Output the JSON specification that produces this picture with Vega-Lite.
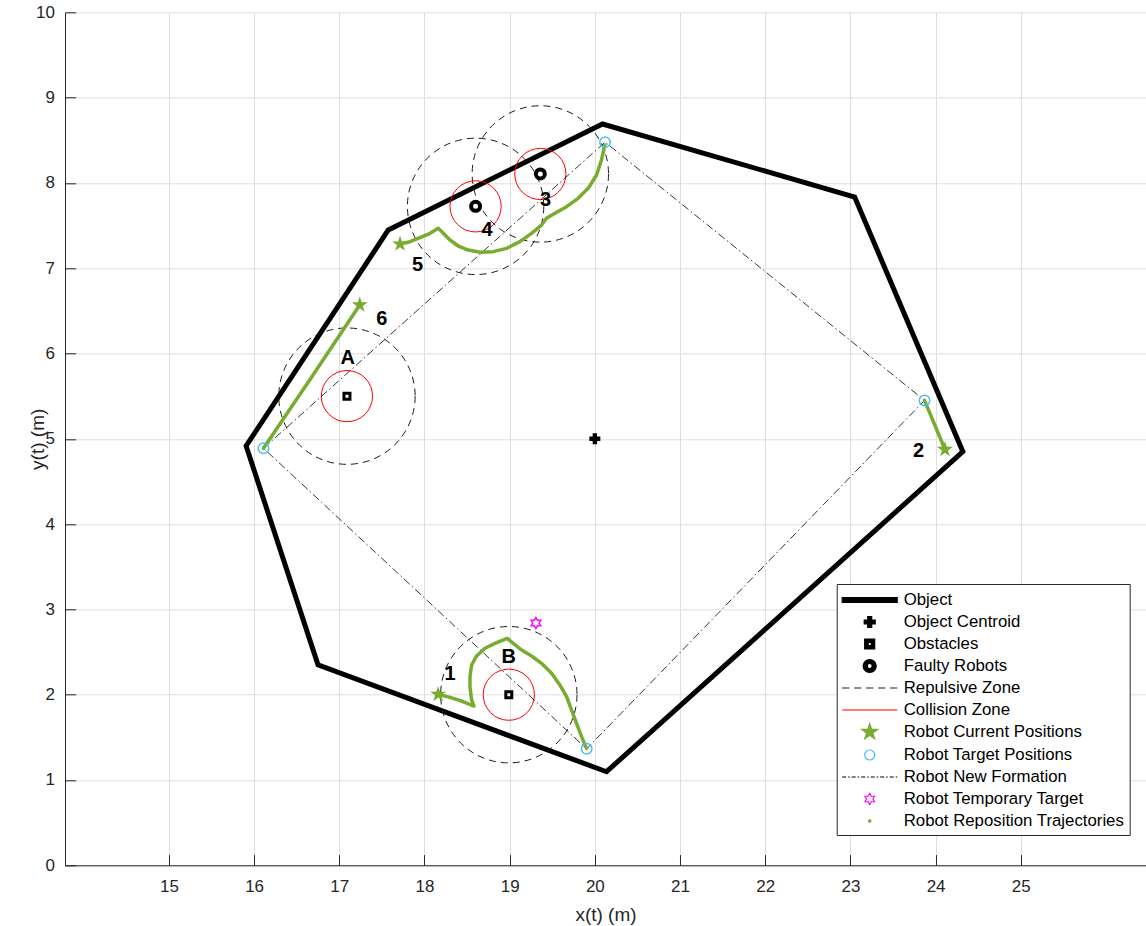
{
  "$schema": "https://vega.github.io/schema/vega-lite/v6.json",
  "width": 1081,
  "height": 853,
  "autosize": {"type": "none"},
  "padding": {"left": 65, "top": 12.3, "right": 0, "bottom": 61},
  "background": "white",
  "config": {
    "view": {"stroke": null},
    "axis": {
      "domainColor": "#262626",
      "domainWidth": 1,
      "tickColor": "#262626",
      "tickSize": -10.7,
      "tickWidth": 1,
      "gridColor": "#dedede",
      "gridWidth": 1,
      "labelColor": "#262626",
      "labelFont": "Liberation Sans",
      "labelFontSize": 17,
      "labelFlush": false,
      "labelOverlap": false,
      "titleFont": "Liberation Sans",
      "titleFontSize": 19,
      "titleFontWeight": "normal",
      "titleColor": "#262626"
    }
  },
  "datasets": {
    "object": [
      {"series": "Object", "i": 0, "x": 15.906, "y": 4.916},
      {"series": "Object", "i": 1, "x": 17.575, "y": 7.448},
      {"series": "Object", "i": 2, "x": 20.09, "y": 8.69},
      {"series": "Object", "i": 3, "x": 23.05, "y": 7.835},
      {"series": "Object", "i": 4, "x": 24.32, "y": 4.849},
      {"series": "Object", "i": 5, "x": 20.137, "y": 1.097},
      {"series": "Object", "i": 6, "x": 16.75, "y": 2.35},
      {"series": "Object", "i": 7, "x": 15.906, "y": 4.916},
      {"series": "Object", "i": 8, "x": 17.575, "y": 7.448}
    ],
    "centroid": [
      {"series": "Object Centroid", "x": 20.0, "y": 5.0}
    ],
    "obstacles": [
      {"series": "Obstacles", "name": "A", "x": 17.09, "y": 5.5},
      {"series": "Obstacles", "name": "B", "x": 18.99, "y": 2.0}
    ],
    "faulty": [
      {"series": "Faulty Robots", "robot": "3", "x": 19.36, "y": 8.105},
      {"series": "Faulty Robots", "robot": "4", "x": 18.6, "y": 7.725}
    ],
    "repulsive": [
      {"series": "Repulsive Zone", "x": 17.09, "y": 5.5},
      {"series": "Repulsive Zone", "x": 18.99, "y": 2.0},
      {"series": "Repulsive Zone", "x": 19.36, "y": 8.105},
      {"series": "Repulsive Zone", "x": 18.6, "y": 7.725}
    ],
    "collision": [
      {"series": "Collision Zone", "x": 17.09, "y": 5.5},
      {"series": "Collision Zone", "x": 18.99, "y": 2.0},
      {"series": "Collision Zone", "x": 19.36, "y": 8.105},
      {"series": "Collision Zone", "x": 18.6, "y": 7.725}
    ],
    "current": [
      {"series": "Robot Current Positions", "robot": "1", "x": 18.16, "y": 2.004},
      {"series": "Robot Current Positions", "robot": "2", "x": 24.11, "y": 4.875},
      {"series": "Robot Current Positions", "robot": "5", "x": 17.713, "y": 7.284},
      {"series": "Robot Current Positions", "robot": "6", "x": 17.24, "y": 6.569}
    ],
    "targets": [
      {"series": "Robot Target Positions", "x": 16.11, "y": 4.889},
      {"series": "Robot Target Positions", "x": 20.12, "y": 8.478},
      {"series": "Robot Target Positions", "x": 23.87, "y": 5.45},
      {"series": "Robot Target Positions", "x": 19.904, "y": 1.365}
    ],
    "formation": [
      {"series": "Robot New Formation", "i": 0, "x": 16.11, "y": 4.889},
      {"series": "Robot New Formation", "i": 1, "x": 20.12, "y": 8.478},
      {"series": "Robot New Formation", "i": 2, "x": 23.87, "y": 5.45},
      {"series": "Robot New Formation", "i": 3, "x": 19.904, "y": 1.365},
      {"series": "Robot New Formation", "i": 4, "x": 16.11, "y": 4.889}
    ],
    "temp": [
      {"series": "Robot Temporary Target", "x": 19.308, "y": 2.84}
    ],
    "traj": [
      {"series": "Robot Reposition Trajectories", "robot": "1", "i": 0, "x": 18.162, "y": 2.004},
      {"series": "Robot Reposition Trajectories", "robot": "1", "i": 1, "x": 18.299, "y": 1.969},
      {"series": "Robot Reposition Trajectories", "robot": "1", "i": 2, "x": 18.436, "y": 1.926},
      {"series": "Robot Reposition Trajectories", "robot": "1", "i": 3, "x": 18.581, "y": 1.867},
      {"series": "Robot Reposition Trajectories", "robot": "1", "i": 4, "x": 18.553, "y": 1.938},
      {"series": "Robot Reposition Trajectories", "robot": "1", "i": 5, "x": 18.534, "y": 2.094},
      {"series": "Robot Reposition Trajectories", "robot": "1", "i": 6, "x": 18.534, "y": 2.211},
      {"series": "Robot Reposition Trajectories", "robot": "1", "i": 7, "x": 18.553, "y": 2.348},
      {"series": "Robot Reposition Trajectories", "robot": "1", "i": 8, "x": 18.612, "y": 2.454},
      {"series": "Robot Reposition Trajectories", "robot": "1", "i": 9, "x": 18.71, "y": 2.544},
      {"series": "Robot Reposition Trajectories", "robot": "1", "i": 10, "x": 18.847, "y": 2.61},
      {"series": "Robot Reposition Trajectories", "robot": "1", "i": 11, "x": 18.972, "y": 2.661},
      {"series": "Robot Reposition Trajectories", "robot": "1", "i": 12, "x": 19.042, "y": 2.602},
      {"series": "Robot Reposition Trajectories", "robot": "1", "i": 13, "x": 19.14, "y": 2.524},
      {"series": "Robot Reposition Trajectories", "robot": "1", "i": 14, "x": 19.257, "y": 2.454},
      {"series": "Robot Reposition Trajectories", "robot": "1", "i": 15, "x": 19.374, "y": 2.368},
      {"series": "Robot Reposition Trajectories", "robot": "1", "i": 16, "x": 19.492, "y": 2.251},
      {"series": "Robot Reposition Trajectories", "robot": "1", "i": 17, "x": 19.589, "y": 2.114},
      {"series": "Robot Reposition Trajectories", "robot": "1", "i": 18, "x": 19.668, "y": 1.977},
      {"series": "Robot Reposition Trajectories", "robot": "1", "i": 19, "x": 19.726, "y": 1.821},
      {"series": "Robot Reposition Trajectories", "robot": "1", "i": 20, "x": 19.785, "y": 1.664},
      {"series": "Robot Reposition Trajectories", "robot": "1", "i": 21, "x": 19.844, "y": 1.508},
      {"series": "Robot Reposition Trajectories", "robot": "1", "i": 22, "x": 19.902, "y": 1.371},
      {"series": "Robot Reposition Trajectories", "robot": "2", "i": 0, "x": 23.87, "y": 5.45},
      {"series": "Robot Reposition Trajectories", "robot": "2", "i": 1, "x": 24.11, "y": 4.875},
      {"series": "Robot Reposition Trajectories", "robot": "6", "i": 0, "x": 16.11, "y": 4.889},
      {"series": "Robot Reposition Trajectories", "robot": "6", "i": 1, "x": 16.68, "y": 5.73},
      {"series": "Robot Reposition Trajectories", "robot": "6", "i": 2, "x": 17.24, "y": 6.569},
      {"series": "Robot Reposition Trajectories", "robot": "5", "i": 0, "x": 17.713, "y": 7.284},
      {"series": "Robot Reposition Trajectories", "robot": "5", "i": 1, "x": 17.83, "y": 7.311},
      {"series": "Robot Reposition Trajectories", "robot": "5", "i": 2, "x": 17.947, "y": 7.358},
      {"series": "Robot Reposition Trajectories", "robot": "5", "i": 3, "x": 18.065, "y": 7.409},
      {"series": "Robot Reposition Trajectories", "robot": "5", "i": 4, "x": 18.162, "y": 7.467},
      {"series": "Robot Reposition Trajectories", "robot": "5", "i": 5, "x": 18.221, "y": 7.409},
      {"series": "Robot Reposition Trajectories", "robot": "5", "i": 6, "x": 18.299, "y": 7.331},
      {"series": "Robot Reposition Trajectories", "robot": "5", "i": 7, "x": 18.397, "y": 7.26},
      {"series": "Robot Reposition Trajectories", "robot": "5", "i": 8, "x": 18.514, "y": 7.213},
      {"series": "Robot Reposition Trajectories", "robot": "5", "i": 9, "x": 18.651, "y": 7.186},
      {"series": "Robot Reposition Trajectories", "robot": "5", "i": 10, "x": 18.807, "y": 7.194},
      {"series": "Robot Reposition Trajectories", "robot": "5", "i": 11, "x": 18.964, "y": 7.233},
      {"series": "Robot Reposition Trajectories", "robot": "5", "i": 12, "x": 19.12, "y": 7.311},
      {"series": "Robot Reposition Trajectories", "robot": "5", "i": 13, "x": 19.257, "y": 7.409},
      {"series": "Robot Reposition Trajectories", "robot": "5", "i": 14, "x": 19.374, "y": 7.506},
      {"series": "Robot Reposition Trajectories", "robot": "5", "i": 15, "x": 19.433, "y": 7.585},
      {"series": "Robot Reposition Trajectories", "robot": "5", "i": 16, "x": 19.531, "y": 7.643},
      {"series": "Robot Reposition Trajectories", "robot": "5", "i": 17, "x": 19.668, "y": 7.721},
      {"series": "Robot Reposition Trajectories", "robot": "5", "i": 18, "x": 19.804, "y": 7.819},
      {"series": "Robot Reposition Trajectories", "robot": "5", "i": 19, "x": 19.922, "y": 7.936},
      {"series": "Robot Reposition Trajectories", "robot": "5", "i": 20, "x": 20.02, "y": 8.093},
      {"series": "Robot Reposition Trajectories", "robot": "5", "i": 21, "x": 20.078, "y": 8.269},
      {"series": "Robot Reposition Trajectories", "robot": "5", "i": 22, "x": 20.117, "y": 8.444}
    ],
    "labels": [
      {"label": "1", "x": 18.3, "y": 2.24},
      {"label": "2", "x": 23.8, "y": 4.855},
      {"label": "3", "x": 19.42, "y": 7.8},
      {"label": "4", "x": 18.735, "y": 7.445},
      {"label": "5", "x": 17.92, "y": 7.04},
      {"label": "6", "x": 17.5, "y": 6.405},
      {"label": "A", "x": 17.1, "y": 5.95},
      {"label": "B", "x": 18.99, "y": 2.445}
    ]
  },
  "encoding": {
    "x": {
      "field": "x",
      "type": "quantitative",
      "scale": {"domain": [13.78, 26.47], "nice": false, "zero": false},
      "axis": {
        "values": [15, 16, 17, 18, 19, 20, 21, 22, 23, 24, 25],
        "title": "x(t) (m)",
        "titleY": 49.7,
        "titleBaseline": "middle",
        "labelBaseline": "middle",
        "labelPadding": 32.1
      }
    },
    "y": {
      "field": "y",
      "type": "quantitative",
      "scale": {"domain": [0, 10], "nice": false, "zero": false},
      "axis": {
        "values": [0, 1, 2, 3, 4, 5, 6, 7, 8, 9, 10],
        "title": "y(t) (m)",
        "titleX": -27.5,
        "titleBaseline": "middle",
        "labelPadding": 21.2
      }
    },
    "color": {
      "field": "series",
      "type": "nominal",
      "scale": {
        "domain": ["Object", "Object Centroid", "Obstacles", "Faulty Robots", "Repulsive Zone", "Collision Zone", "Robot Current Positions", "Robot Target Positions", "Robot New Formation", "Robot Temporary Target", "Robot Reposition Trajectories"],
        "range": ["#000000", "#000000", "#000000", "#000000", "#1a1a1a", "#ff0000", "#77ac30", "#4dbeee", "#000000", "#ff00ff", "#77ac30"]
      },
      "legend": {
        "orient": "none",
        "legendX": 771.7,
        "legendY": 571.7,
        "title": null,
        "direction": "vertical",
        "symbolSize": 400,
        "symbolStrokeWidth": 1.2,
        "symbolOffset": 17,
        "labelOffset": 23,
        "labelFont": "Liberation Sans",
        "labelFontSize": 16.8,
        "labelColor": "#000000",
        "labelLimit": 400,
        "padding": 5,
        "rowPadding": 2.0,
        "strokeColor": "#262626",
        "fillColor": "#ffffff",
        "encode": {
          "symbols": {
            "update": {
              "shape": {"signal": "['M-2.75,-0.25H2.75V0.25H-2.75Z', 'M-0.55,-0.2H0.55V0.2H-0.55Z M-0.2,-0.55H0.2V0.55H-0.2Z', 'M-0.5,-0.5H0.5V0.5H-0.5Z M-0.15,-0.15V0.15H0.15V-0.15Z', 'M-0.65,0A0.65,0.65,0,1,1,0.65,0A0.65,0.65,0,1,1,-0.65,0Z M-0.25,0A0.25,0.25,0,1,0,0.25,0A0.25,0.25,0,1,0,-0.25,0Z', 'M-2.75,0H2.75', 'M-2.75,0H2.75', 'M0,-0.84L0.1886,-0.2596L0.7989,-0.2596L0.3052,0.0991L0.4938,0.6796L0,0.3209L-0.4938,0.6796L-0.3052,0.0991L-0.7989,-0.2596L-0.1886,-0.2596Z', 'M-0.5,0A0.5,0.5,0,1,1,0.5,0A0.5,0.5,0,1,1,-0.5,0Z', 'M-2.75,0H2.75', 'M0,-0.55L0.159,-0.275L0.476,-0.275L0.317,0L0.476,0.275L0.159,0.275L0,0.55L-0.159,0.275L-0.476,0.275L-0.317,0L-0.476,-0.275L-0.159,-0.275Z', 'M-0.12,0A0.12,0.12,0,1,1,0.12,0A0.12,0.12,0,1,1,-0.12,0Z'][datum.index]"},
              "fill": {"signal": "['#000000','#000000','#000000','#000000','#ffffff','#ffffff','#77ac30','#ffffff','#ffffff','#ffffff','#77ac30'][datum.index]"},
              "fillOpacity": {"signal": "[1,1,1,1,0,0,1,0,0,0,1][datum.index]"},
              "stroke": {"signal": "['transparent','transparent','transparent','transparent','#1a1a1a','#ff0000','transparent','#4dbeee','#000000','#ff00ff','transparent'][datum.index]"},
              "strokeDash": {"signal": "[[],[],[],[],[7,5],[],[],[],[4,2,1.5,2],[],[]][datum.index]"},
              "opacity": {"value": 1}
            }
          }
        }
      }
    }
  },
  "layer": [
    {
      "data": {"name": "object"},
      "mark": {"type": "line", "strokeWidth": 5, "strokeJoin": "miter", "strokeCap": "butt"},
      "encoding": {"order": {"field": "i", "type": "quantitative"}}
    },
    {
      "data": {"name": "repulsive"},
      "mark": {"type": "point", "shape": "circle", "size": 18600, "filled": false, "strokeWidth": 1, "strokeDash": [7, 5], "opacity": 1}
    },
    {
      "data": {"name": "collision"},
      "mark": {"type": "point", "shape": "circle", "size": 2621, "filled": false, "strokeWidth": 1, "opacity": 1}
    },
    {
      "data": {"name": "formation"},
      "mark": {"type": "line", "strokeWidth": 0.8, "strokeDash": [8, 3, 1.5, 3]},
      "encoding": {"order": {"field": "i", "type": "quantitative"}}
    },
    {
      "data": {"name": "centroid"},
      "mark": {"type": "point", "shape": "cross", "size": 121, "filled": true, "opacity": 1}
    },
    {
      "data": {"name": "obstacles"},
      "mark": {"type": "point", "shape": "square", "size": 36, "filled": false, "strokeWidth": 3, "opacity": 1}
    },
    {
      "data": {"name": "faulty"},
      "mark": {"type": "point", "shape": "circle", "size": 81, "filled": false, "strokeWidth": 4, "opacity": 1}
    },
    {
      "data": {"name": "traj"},
      "mark": {"type": "line", "strokeWidth": 3.5, "strokeJoin": "round", "strokeCap": "round"},
      "encoding": {
        "order": {"field": "i", "type": "quantitative"},
        "detail": {"field": "robot", "type": "nominal"}
      }
    },
    {
      "data": {"name": "targets"},
      "mark": {"type": "point", "shape": "circle", "size": 110, "filled": false, "strokeWidth": 1.5, "opacity": 1}
    },
    {
      "data": {"name": "current"},
      "mark": {"type": "point", "shape": "M0,-1L0.2245,-0.309L0.9511,-0.309L0.3633,0.118L0.5878,0.809L0,0.382L-0.5878,0.809L-0.3633,0.118L-0.9511,-0.309L-0.2245,-0.309Z", "size": 282, "filled": true, "opacity": 1}
    },
    {
      "data": {"name": "temp"},
      "mark": {"type": "point", "shape": "M0,-1L0.289,-0.5L0.866,-0.5L0.577,0L0.866,0.5L0.289,0.5L0,1L-0.289,0.5L-0.866,0.5L-0.577,0L-0.866,-0.5L-0.289,-0.5Z", "size": 121, "filled": false, "strokeWidth": 1.5, "opacity": 1}
    },
    {
      "data": {"name": "labels"},
      "mark": {"type": "text", "font": "Liberation Sans", "fontWeight": "bold", "fontSize": 20, "align": "center", "baseline": "middle"},
      "encoding": {
        "text": {"field": "label", "type": "nominal"},
        "color": {"value": "#000000"}
      }
    }
  ]
}
